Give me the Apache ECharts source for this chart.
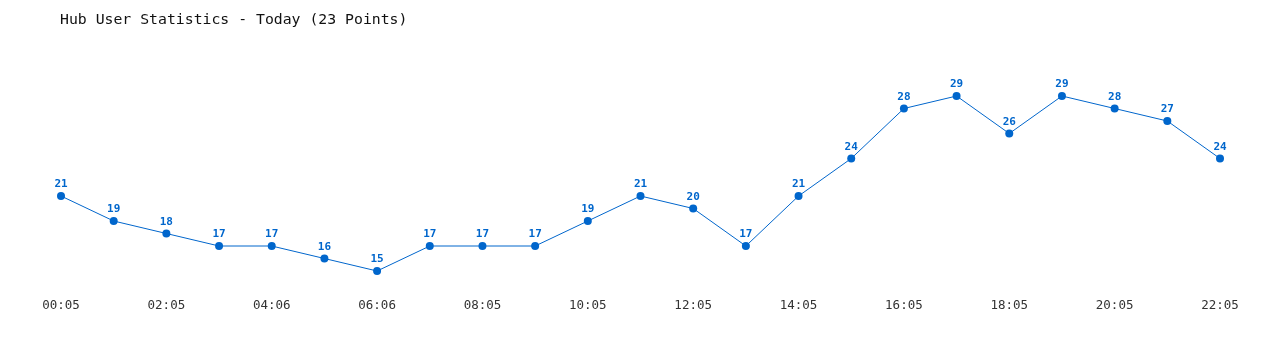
<!DOCTYPE html>
<html><head><meta charset="utf-8">
<script src="https://cdn.jsdelivr.net/npm/echarts@6/dist/echarts.min.js"></script>
<style>html,body{margin:0;padding:0;background:#fff}#c{width:1280px;height:350px}</style>
</head><body><div id="c"></div>
<script>
const categories = ["00:05","01:05","02:05","03:05","04:06","05:06","06:06","07:05","08:05","09:05","10:05","11:05","12:05","13:05","14:05","15:05","16:05","17:05","18:05","19:05","20:05","21:05","22:05"];
const users = [21,19,18,17,17,16,15,17,17,17,19,21,20,17,21,24,28,29,26,29,28,27,24];
const titleText = "Hub User Statistics - Today (23 Points)";

const chart = echarts.init(document.getElementById('c'));
chart.setOption({
  animation: false,
  title: { text: titleText, left: 55, top: 8,
    textStyle: { fontFamily: 'DejaVu Sans Mono', fontSize: 14.8, fontWeight: 'normal', color: '#111' } },
  grid: { left: 61, right: 60, top: 58.5, bottom: 54 },
  xAxis: { type: 'category', data: categories, boundaryGap: false,
    axisLine: { show: false }, axisTick: { show: false }, splitLine: { show: false },
    axisLabel: { interval: 1, margin: 3, color: '#333', fontFamily: 'DejaVu Sans Mono', fontSize: 12.5 } },
  yAxis: { type: 'value', min: 13, max: 32, show: false, splitLine: { show: false } },
  series: [{ type: 'line', data: users, symbol: 'circle', symbolSize: 8,
    lineStyle: { color: '#0066cc', width: 1 }, itemStyle: { color: '#0066cc' },
    label: { show: true, position: 'top', distance: 2, color: '#0066cc',
      fontFamily: 'DejaVu Sans Mono', fontWeight: 'bold', fontSize: 11 } }]
});
</script></body></html>
